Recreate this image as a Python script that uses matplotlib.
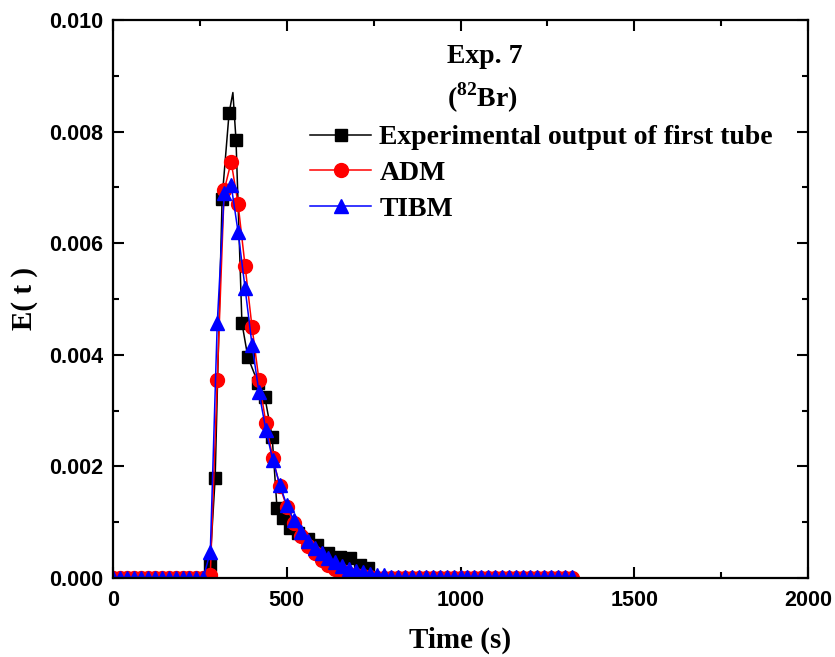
import numpy as np
import matplotlib
matplotlib.use('Agg')
import matplotlib.pyplot as plt
from matplotlib.ticker import MultipleLocator, FormatStrFormatter

# --- Data ---

# model grid: 0 .. 1320 s every 20 s
model_time = list(range(0, 1321, 20))

adm = ([0.0] * 14 +
       [0.00005, 0.00355, 0.00695, 0.00746, 0.0067, 0.0056, 0.0045, 0.00355,
        0.00278, 0.00215, 0.00165, 0.00127, 0.00098, 0.00076, 0.00058, 0.00044,
        0.00033, 0.00024, 0.00017, 0.00012, 0.00008, 0.00005, 0.00003, 0.00002] +
       [0.0] * 29)

tibm = ([0.0] * 14 +
        [0.00047, 0.00457, 0.0069, 0.00704, 0.0062, 0.0052, 0.00418, 0.00333,
         0.00265, 0.00211, 0.00167, 0.00131, 0.00104, 0.00082, 0.00066, 0.00054,
         0.00044, 0.00035, 0.00028, 0.00022, 0.00017, 0.00013, 0.0001, 0.00008,
         0.00006, 0.00005] +
        [0.00002] * 27)

exp_time = [279, 294, 314, 334, 345, 354, 371, 388, 417, 437, 458, 472, 489,
            509, 532, 561, 587, 619, 653, 682, 711, 734]
exp_val = [0.00023, 0.0018, 0.0068, 0.00833, 0.0087, 0.00785, 0.00457, 0.00396,
           0.0035, 0.00324, 0.00253, 0.00125, 0.00107, 0.0009, 0.0008, 0.0007,
           0.00059, 0.00045, 0.00038, 0.00036, 0.00023, 0.00018]
# the peak tip has no marker in the original
exp_marked = [i for i in range(len(exp_time)) if i != 4]

labels = ['Experimental output of first tube', 'ADM', 'TIBM']

# --- Style ---
plt.rcParams['mathtext.fontset'] = 'custom'
plt.rcParams['mathtext.rm'] = 'Liberation Serif:bold'
plt.rcParams['mathtext.bf'] = 'Liberation Serif:bold'

SERIF = 'Liberation Serif'
SANS = 'Liberation Sans'

fig = plt.figure(figsize=(8.35, 6.57), dpi=100)
ax = fig.add_axes([113 / 835, 1 - 578 / 657, 695 / 835, 558 / 657])

ax.plot(exp_time, exp_val, color='black', lw=1.1, marker='s', ms=8.5,
        markevery=exp_marked, label=labels[0])
ax.plot(model_time, adm, color='red', lw=1.1, marker='o', ms=10,
        label=labels[1])
ax.plot(model_time, tibm, color='blue', lw=1.1, marker='^', ms=10.5,
        label=labels[2])

ax.set_xlim(0, 2000)
ax.set_ylim(0, 0.010)
ax.xaxis.set_major_locator(MultipleLocator(500))
ax.xaxis.set_minor_locator(MultipleLocator(250))
ax.yaxis.set_major_locator(MultipleLocator(0.002))
ax.yaxis.set_minor_locator(MultipleLocator(0.001))
ax.yaxis.set_major_formatter(FormatStrFormatter('%.3f'))

for s in ax.spines.values():
    s.set_linewidth(1.6)
ax.tick_params(which='both', direction='in', top=True, right=True, width=1.5)
ax.tick_params(which='major', length=8)
ax.tick_params(axis='x', which='major', pad=9)
ax.tick_params(axis='y', which='major', pad=7)
ax.tick_params(which='minor', length=4.5)
for lab in ax.get_xticklabels() + ax.get_yticklabels():
    lab.set_fontfamily(SANS)
    lab.set_fontweight('bold')
    lab.set_fontsize(15.5)

ax.set_xlabel('Time (s)', fontfamily=SERIF, fontweight='bold', fontsize=21,
              labelpad=11)
ax.set_ylabel('E( t )', fontfamily=SERIF, fontweight='bold', fontsize=21,
              labelpad=8)

ax.text(0.481, 0.935, 'Exp. 7', transform=ax.transAxes, fontfamily=SERIF,
        fontweight='bold', fontsize=20, ha='left', va='center')
ax.text(0.481, 0.86, r'($^{\bf 82}$Br)', transform=ax.transAxes,
        fontfamily=SERIF, fontweight='bold', fontsize=20, ha='left',
        va='center')

ax.legend(loc='upper left', bbox_to_anchor=(0.2835, 0.812), frameon=False,
          prop={'family': SERIF, 'weight': 'bold', 'size': 20},
          handlelength=2.2, handletextpad=0.3, labelspacing=0.37,
          borderpad=0, borderaxespad=0, markerscale=1.0)

fig.savefig('out.png', dpi=100, facecolor='white')
